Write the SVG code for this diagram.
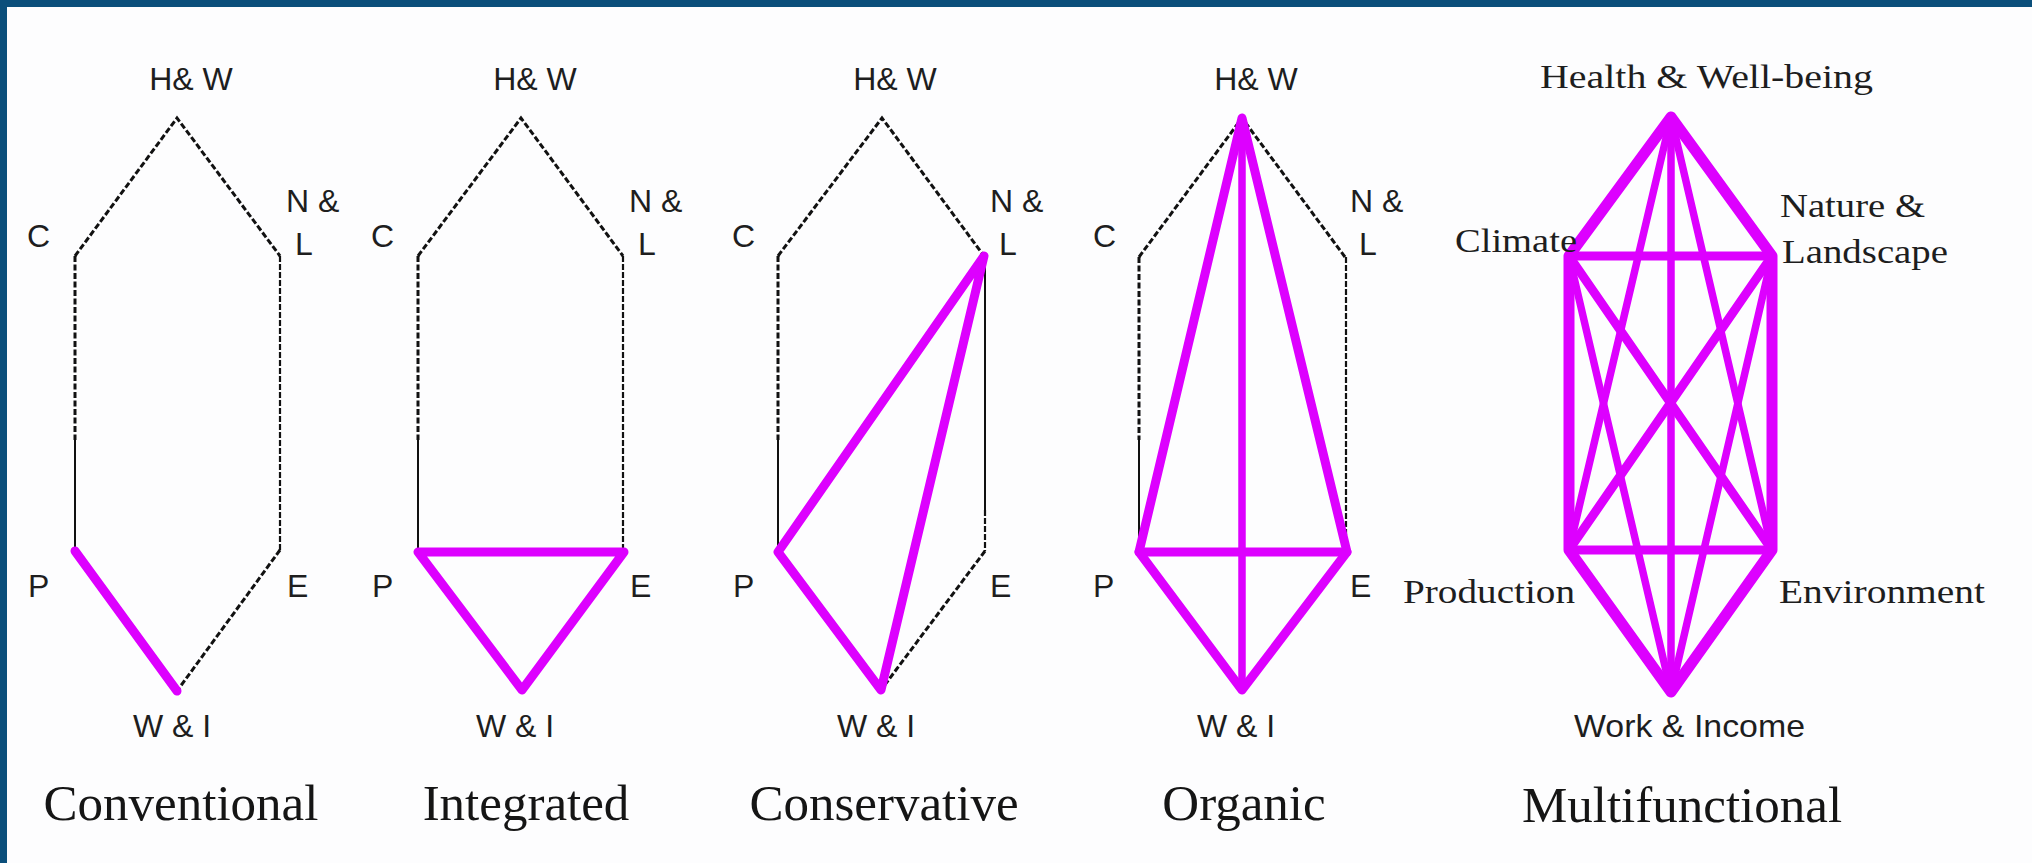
<svg xmlns="http://www.w3.org/2000/svg" width="2032" height="863" viewBox="0 0 2032 863">
<style>
.bg{fill:#fdfdfe}
.frame{fill:#0b4f7b}
.dash{stroke:#111;stroke-width:3;fill:none;stroke-dasharray:6 2.5}
.thin{stroke:#111;stroke-width:2;fill:none}
.thind{stroke:#111;stroke-width:2.2;fill:none;stroke-dasharray:6 2}
.mag{stroke:#dd00ff;stroke-width:9;fill:none;stroke-linecap:round;stroke-linejoin:round}
.magw{stroke:#dd00ff;stroke-width:11;fill:none;stroke-linecap:round;stroke-linejoin:round}
.magt{stroke:#dd00ff;stroke-width:7.5;fill:none;stroke-linecap:round}
.lbl{font-family:"Liberation Sans",Arial,sans-serif;font-size:32px;fill:#1e1e1e}
.ttl{font-family:"Liberation Serif","Times New Roman",serif;font-size:51px;fill:#151515;text-anchor:middle}
.ser{font-family:"Liberation Serif","Times New Roman",serif;font-size:34px;fill:#1e1e1e}
.mid{text-anchor:middle}
</style>
<rect class="bg" x="0" y="0" width="2032" height="863"/>
<rect class="frame" x="0" y="0" width="2032" height="7"/>
<rect class="frame" x="0" y="0" width="7" height="863"/>

<g id="conventional">
  <g id="conventional-connectors">
    <polyline class="dash" points="75,256 177,118 280,256"/>
    <line class="dash" x1="75" y1="256" x2="75" y2="440"/>
    <line class="thin" x1="75" y1="440" x2="75" y2="551"/>
    <line class="thind" x1="280" y1="256" x2="280" y2="550"/>
    <line class="dash" x1="280" y1="550" x2="177" y2="691"/>
    <line class="mag" x1="75" y1="551" x2="177" y2="691"/>
  </g>
  <text class="lbl mid" x="191" y="90">H&amp; W</text>
  <text class="lbl" x="27" y="247">C</text>
  <text class="lbl" x="286" y="212">N &amp;</text>
  <text class="lbl" x="295" y="255">L</text>
  <text class="lbl" x="28" y="597">P</text>
  <text class="lbl" x="287" y="597">E</text>
  <text class="lbl mid" x="172" y="737">W &amp; I</text>
  <text class="ttl" x="181" y="820">Conventional</text>
</g>

<g id="integrated">
  <g id="integrated-connectors">
    <polyline class="dash" points="418,256 521,118 623,256"/>
    <line class="dash" x1="418" y1="256" x2="418" y2="440"/>
    <line class="thin" x1="418" y1="440" x2="418" y2="552"/>
    <line class="thind" x1="623" y1="256" x2="623" y2="552"/>
    <polygon class="mag" points="418,552 624,552 522,690"/>
  </g>
  <text class="lbl mid" x="535" y="90">H&amp; W</text>
  <text class="lbl" x="371" y="247">C</text>
  <text class="lbl" x="629" y="212">N &amp;</text>
  <text class="lbl" x="638" y="255">L</text>
  <text class="lbl" x="372" y="597">P</text>
  <text class="lbl" x="630" y="597">E</text>
  <text class="lbl mid" x="515" y="737">W &amp; I</text>
  <text class="ttl" x="526" y="820">Integrated</text>
</g>

<g id="conservative">
  <g id="conservative-connectors">
    <polyline class="dash" points="778,256 882,118 984,256"/>
    <line class="dash" x1="778" y1="256" x2="778" y2="440"/>
    <line class="thin" x1="778" y1="440" x2="778" y2="552"/>
    <line class="thin" x1="985" y1="256" x2="985" y2="510"/>
    <line class="thind" x1="985" y1="510" x2="985" y2="551"/>
    <line class="dash" x1="985" y1="551" x2="881" y2="690"/>
    <polygon class="mag" points="778,552 984,256 881,690"/>
  </g>
  <text class="lbl mid" x="895" y="90">H&amp; W</text>
  <text class="lbl" x="732" y="247">C</text>
  <text class="lbl" x="990" y="212">N &amp;</text>
  <text class="lbl" x="999" y="255">L</text>
  <text class="lbl" x="733" y="597">P</text>
  <text class="lbl" x="990" y="597">E</text>
  <text class="lbl mid" x="876" y="737">W &amp; I</text>
  <text class="ttl" x="884" y="820">Conservative</text>
</g>

<g id="organic">
  <g id="organic-connectors">
    <polyline class="dash" points="1139,257 1242,118 1345,257"/>
    <line class="dash" x1="1139" y1="257" x2="1139" y2="440"/>
    <line class="thin" x1="1139" y1="440" x2="1139" y2="552"/>
    <line class="thind" x1="1346" y1="257" x2="1346" y2="552"/>
    <polygon class="mag" points="1242,118 1347,552 1242,690 1139,552"/>
    <line class="mag" x1="1139" y1="552" x2="1347" y2="552"/>
    <line class="magt" x1="1242" y1="118" x2="1242" y2="690"/>
  </g>
  <text class="lbl mid" x="1256" y="90">H&amp; W</text>
  <text class="lbl" x="1093" y="247">C</text>
  <text class="lbl" x="1350" y="212">N &amp;</text>
  <text class="lbl" x="1359" y="255">L</text>
  <text class="lbl" x="1093" y="597">P</text>
  <text class="lbl" x="1350" y="597">E</text>
  <text class="lbl mid" x="1236" y="737">W &amp; I</text>
  <text class="ttl" x="1244" y="820">Organic</text>
</g>

<g id="multifunctional">
  <g id="multifunctional-connectors">
    <polygon class="magw" points="1671,117 1772,256 1772,550 1671,692 1569,550 1569,256"/>
    <line class="mag" x1="1569" y1="256" x2="1772" y2="256"/>
    <line class="mag" x1="1569" y1="550" x2="1772" y2="550"/>
    <line class="magt" x1="1671" y1="117" x2="1671" y2="692"/>
    <line class="magt" x1="1671" y1="117" x2="1569" y2="550"/>
    <line class="magt" x1="1671" y1="117" x2="1772" y2="550"/>
    <line class="magt" x1="1671" y1="692" x2="1569" y2="256"/>
    <line class="magt" x1="1671" y1="692" x2="1772" y2="256"/>
    <line class="mag" x1="1569" y1="256" x2="1772" y2="550"/>
    <line class="mag" x1="1772" y1="256" x2="1569" y2="550"/>
  </g>
  <text class="ser" x="1540" y="88" textLength="333" lengthAdjust="spacingAndGlyphs">Health &amp; Well-being</text>
  <text class="ser" x="1780" y="217" textLength="145" lengthAdjust="spacingAndGlyphs">Nature &amp;</text>
  <text class="ser" x="1782" y="263" textLength="166" lengthAdjust="spacingAndGlyphs">Landscape</text>
  <text class="ser" x="1455" y="252" textLength="122" lengthAdjust="spacingAndGlyphs">Climate</text>
  <text class="ser" x="1403" y="603" textLength="172" lengthAdjust="spacingAndGlyphs">Production</text>
  <text class="ser" x="1779" y="603" textLength="206" lengthAdjust="spacingAndGlyphs">Environment</text>
  <text class="lbl" x="1574" y="737" textLength="231" lengthAdjust="spacingAndGlyphs">Work &amp; Income</text>
  <text class="ttl" x="1682" y="822">Multifunctional</text>
</g>
</svg>
